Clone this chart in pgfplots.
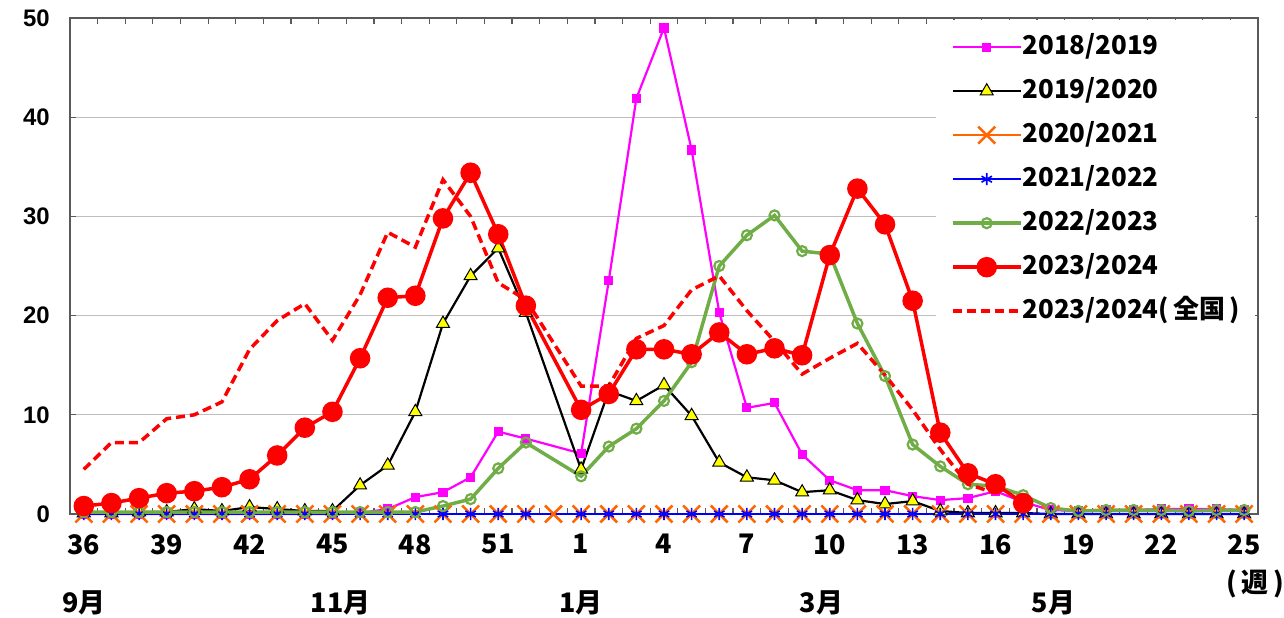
\documentclass[border=0pt]{standalone}
\usepackage{fontspec}
\setmainfont{Liberation Sans}
\newfontfamily\cjk{Noto Sans CJK JP}
\usepackage{pgfplots}
\pgfplotsset{compat=1.18}
\usepackage{pgfplotstable}

\definecolor{cMag}{RGB}{255,0,255}
\definecolor{cOra}{RGB}{255,102,0}
\definecolor{cBlu}{RGB}{0,0,255}
\definecolor{cGrn}{RGB}{112,173,71}
\definecolor{cRed}{RGB}{255,0,0}
\definecolor{cYel}{RGB}{255,255,0}
\definecolor{cGrid}{RGB}{191,191,191}
\definecolor{cAxis}{RGB}{90,90,90}

% i = position on axis (week 36 = 0 ... week 53 = 17, week 1 = 18 ... week 25 = 42)
\pgfplotstableread{
i  wk  s18  s19  s20 s21 s22  s23  nat
0  36  0    0.1  0   0   0.2  0.8  4.5
1  37  0    0.1  0   0   0.2  1.1  7.2
2  38  0    0.2  0   0   0.2  1.6  7.2
3  39  0    0.2  0   0   0.2  2.1  9.6
4  40  0    0.5  0   0   0.2  2.3  10.0
5  41  0    0.3  0   0   0.2  2.7  11.3
6  42  0    0.7  0   0   0.2  3.5  16.6
7  43  0    0.5  0   0   0.2  5.9  19.5
8  44  0    0.3  0   0   0.2  8.7  21.2
9  45  0    0.3  0   0   0.2  10.3 17.5
10 46  0.1  2.9  0   0   0.2  15.7 22.1
11 47  0.5  4.9  0   0   0.2  21.8 28.4
12 48  1.7  10.3 0   0   0.2  22.0 26.9
13 49  2.2  19.2 0   0   0.8  29.8 33.7
14 50  3.7  24.0 0   0   1.5  34.4 30.0
15 51  8.3  26.8 0   0   4.6  28.2 23.3
16 52  7.6  20.3 0   0   7.2  21.0 21.6
17 53  nan  nan  0   nan nan  nan  nan
18 1   6.1  4.5  0   0   3.8  10.5 12.9
19 2   23.5 12.4 0   0   6.8  12.1 12.9
20 3   41.9 11.4 0   0   8.6  16.6 17.7
21 4   49.0 13.0 0   0   11.4 16.6 19.0
22 5   36.7 9.9  0   0   15.3 16.1 22.6
23 6   20.3 5.2  0   0   25.0 18.3 24.0
24 7   10.7 3.7  0   0   28.1 16.1 20.5
25 8   11.2 3.4  0   0   30.1 16.7 17.4
26 9   6.0  2.2  0   0   26.5 16.0 14.1
27 10  3.4  2.4  0   0   26.2 26.1 15.7
28 11  2.4  1.4  0   0   19.2 32.8 17.2
29 12  2.4  1.0  0   0   13.9 29.2 14.0
30 13  1.8  1.3  0   0   7.0  21.5 10.5
31 14  1.4  0.3  0   0   4.8  8.2  6.5
32 15  1.6  0.1  0   0   3.0  4.1  3.0
33 16  2.3  0.1  0   0   2.8  3.0  2.1
34 17  1.2  0.1  0   0   1.9  1.1  nan
35 18  0.4  0    0   0   0.6  nan  nan
36 19  0.3  0    0   0   0.3  nan  nan
37 20  0.4  0    0   0   0.4  nan  nan
38 21  0.4  0    0   0   0.4  nan  nan
39 22  0.5  0    0   0   0.4  nan  nan
40 23  0.5  0    0   0   0.3  nan  nan
41 24  0.5  0    0   0   0.4  nan  nan
42 25  0.4  0    0   0   0.4  nan  nan
}\flu

\begin{document}
\begin{tikzpicture}
\useasboundingbox (0,0) rectangle (1284bp,618bp);
\begin{axis}[
    at={(70bp,104bp)}, anchor=south west,
    scale only axis, width=1188bp, height=496bp,
    xmin=-0.5, xmax=42.5, ymin=0, ymax=50,
    clip=false,
    xtick={0,3,...,42},
    xticklabels={36,39,42,45,48,51,1,4,7,10,13,16,19,22,25},
    minor xtick={-0.5,0.5,...,42.5},
    ytick={0,10,...,50},
    major x tick style={draw=none},
    tick style={cAxis, line width=1.2bp},
    major tick length=6bp, minor tick length=6bp,
    ymajorgrids,
    y grid style={cGrid, line width=1.2bp},
    axis line style={cAxis, line width=2bp},
    yticklabel style={font=\bfseries\fontsize{24}{24}\selectfont, inner sep=0pt, anchor=east, xshift=-20bp},
    xticklabel style={font=\cjk\bfseries\fontsize{27}{27}\selectfont, inner sep=0pt, anchor=north, yshift=-20bp},
    /pgf/number format/assume math mode=true,
    legend cell align=left,
    legend image code/.code={\draw[mark repeat=2,mark phase=2,#1] plot coordinates {(0bp,0bp) (34bp,0bp) (68bp,0bp)};},
    legend style={at={(0.9975,0.997)}, anchor=north east, draw=none, fill=white,
        inner xsep=15bp, inner ysep=15bp, row sep=19bp,
        font=\cjk\bfseries\fontsize{26}{26}\selectfont,
        nodes={inner sep=0pt, text height=20bp, text depth=5bp},
        /tikz/every even column/.append style={column sep=7bp}},
]
\addplot[cMag, line width=2.2bp, mark=square*, mark size=3.5bp] table[x=i, y=s18] {\flu};
\addlegendentry{2018/2019}
\addplot[black, line width=2.2bp, mark=triangle*, mark size=7.5bp, mark options={fill=cYel, draw=black, line width=1bp}] table[x=i, y=s19] {\flu};
\addlegendentry{2019/2020}
\addplot[cOra, line width=2bp, mark=x, mark size=12bp, mark options={line width=2.5bp}] table[x=i, y=s20] {\flu};
\addlegendentry{2020/2021}
\addplot[cBlu, line width=2bp, mark=asterisk, mark size=6bp, mark options={line width=1.6bp}] table[x=i, y=s21] {\flu};
\addlegendentry{2021/2022}
\addplot[cGrn, line width=3.5bp, mark=o, mark size=5bp, mark options={fill=white, line width=2.2bp}] table[x=i, y=s22] {\flu};
\addlegendentry{2022/2023}
\addplot[cRed, line width=3.5bp, mark=*, mark size=8.5bp] table[x=i, y=s23] {\flu};
\addlegendentry{2023/2024}
\addplot[cRed, line width=3.5bp, dash pattern=on 9bp off 5bp] table[x=i, y=nat] {\flu};
\addlegendentry{2023/2024(\,全国\,)}

\begin{scope}[font=\cjk\bfseries\fontsize{27}{27}\selectfont]
\node at ([yshift=-89bp]axis cs:0,0) {9月};
\node at ([yshift=-89bp]axis cs:9.3,0) {11月};
\node at ([yshift=-89bp]axis cs:18,0) {1月};
\node at ([yshift=-89bp]axis cs:26.7,0) {3月};
\node at ([yshift=-89bp]axis cs:35.1,0) {5月};
\node at ([yshift=-70bp,xshift=11bp]axis cs:42,0) {(\,週\,)};
\end{scope}
\end{axis}
\end{tikzpicture}
\end{document}
